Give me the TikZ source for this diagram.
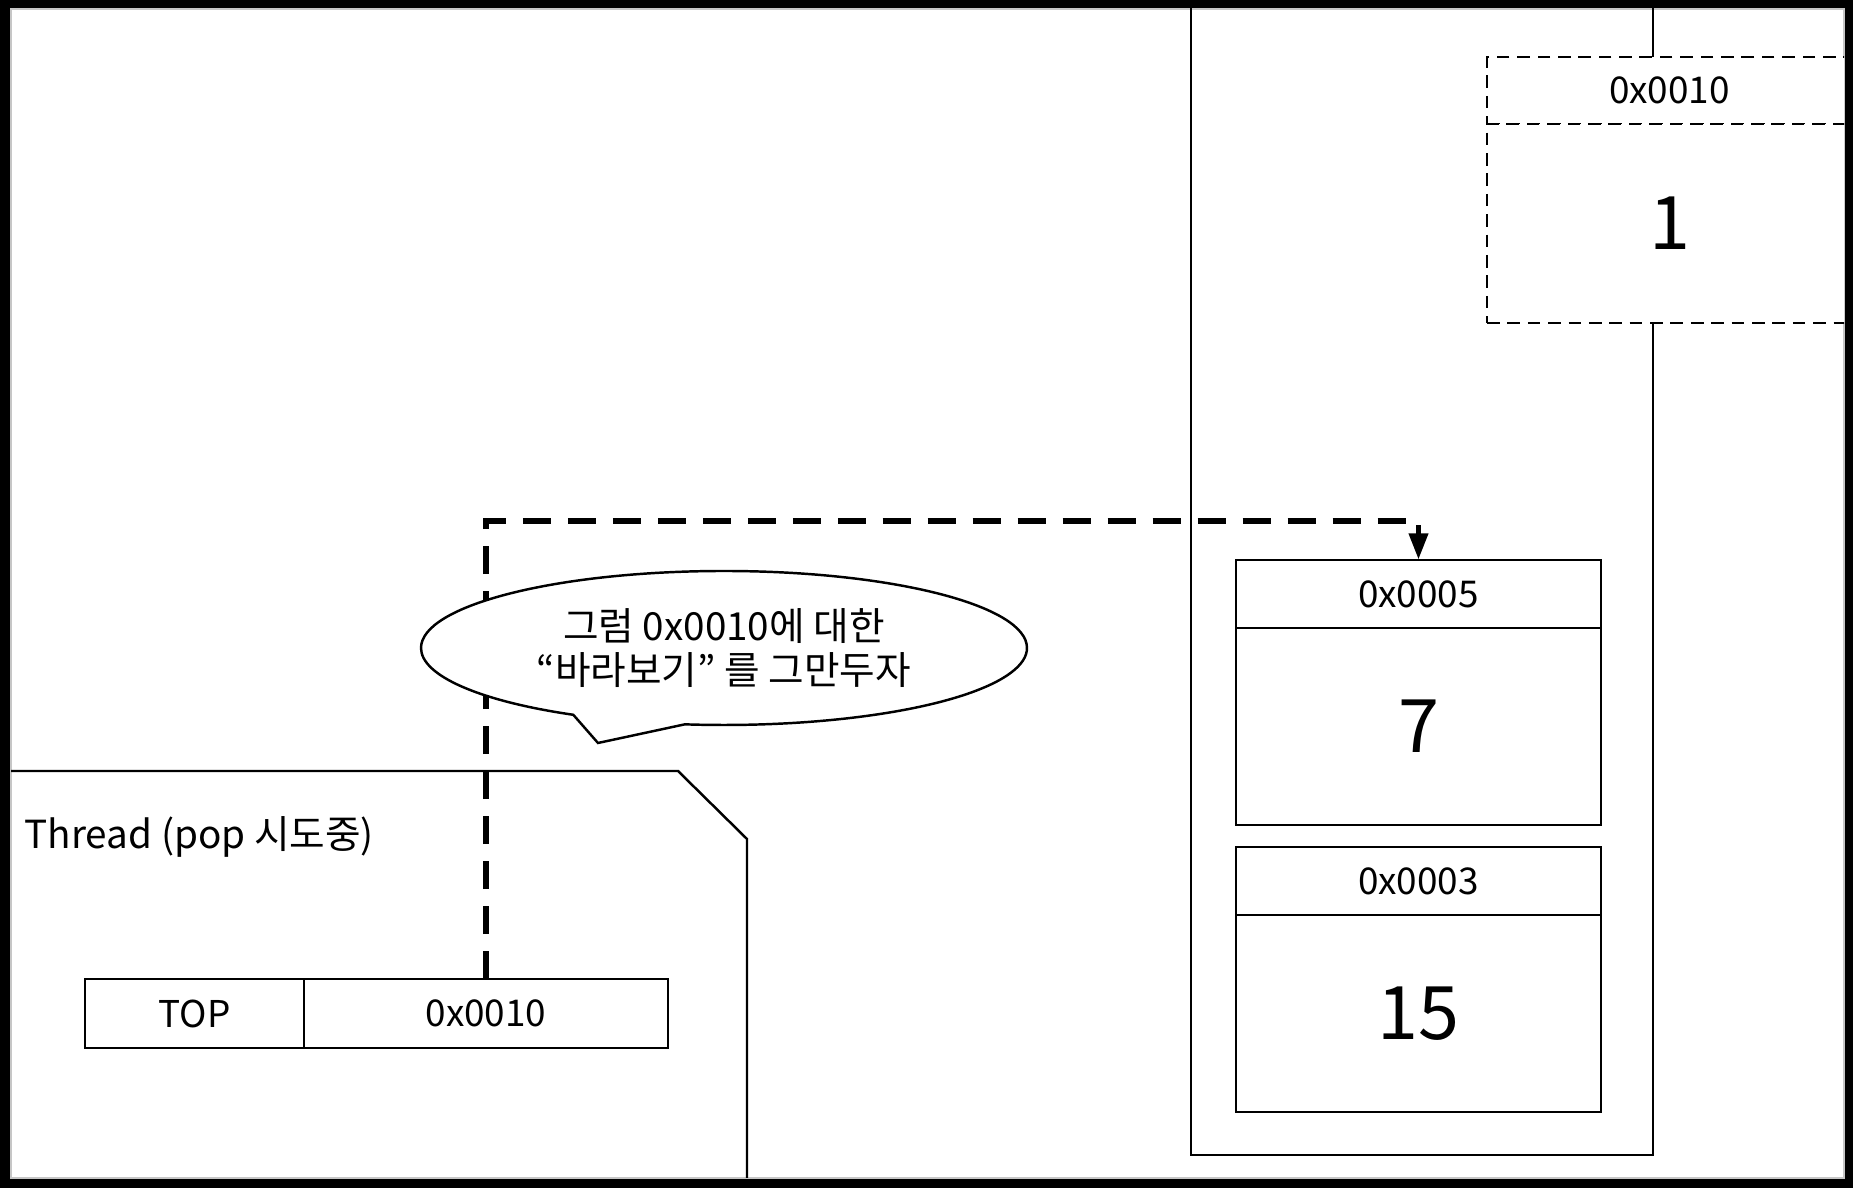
\documentclass[tikz,border=0pt]{standalone}
\usepackage{fontspec}
\setmainfont{Noto Sans CJK KR}
\usepackage{tikz}
\usetikzlibrary{arrows.meta,positioning,shapes.callouts}

\begin{document}
\begin{tikzpicture}[x=0.1mm, y=0.1mm, every node/.style={font=\fontsize{10.5}{12.5}\selectfont},
  cell/.style={draw, line width=0.7pt, minimum width=36.5mm, inner sep=0pt, outer sep=0pt},
  addr/.style={cell, minimum height=6.8mm},
  val/.style={cell, minimum height=19.7mm, font=\fontsize{21}{25}\selectfont},
  ghost/.style={dash pattern=on 3.6pt off 2.2pt, fill=white},
  ptr/.style={line width=1.7pt, dash pattern=on 8pt off 4.8pt, -{Triangle[width=5.2pt,length=7.6pt]}}]
  \useasboundingbox (0,0) rectangle (1853,1188);
  \fill[black] (0,0) rectangle (1853,1188);
  \fill[white, draw=gray!45, line width=0.5pt] (11,10) rectangle (1844,1179);

  \begin{scope}
  \clip (11,10) rectangle (1844,1179);
  \draw[line width=0.7pt] (1191,33) rectangle (1653,1200);

  \node[addr, ghost, minimum height=6.7mm] (n10addr) at (1669.5,1097.5) {0x0010};
  \node[val, ghost, minimum height=19.9mm, below=0pt of n10addr] (n10val) {1};

  \node[addr] (n5addr) at (1418.5,594) {0x0005};
  \node[val, below=0pt of n5addr] (n5val) {7};
  \node[addr, below=2.2mm of n5val] (n3addr) {0x0003};
  \node[val, below=0pt of n3addr] (n3val) {15};

  \draw[line width=0.7pt] (0,417) -- (678,417) -- (747,349) -- (747,-10);
  \node[anchor=west, inner sep=0pt, font=\fontsize{11}{13}\selectfont] (thrlbl) at (24,351) {Thread (pop 시도중)};
  \node[cell, minimum width=21.9mm, minimum height=6.9mm] (topkey) at (194.5,174.5) {TOP};
  \node[cell, minimum width=36.4mm, minimum height=6.9mm, right=0pt of topkey] (topval) {0x0010};

  \coordinate (bend) at (0,667);
  \draw[ptr] (topval.north) -- (topval.north |- bend) -| (n5addr.north);

  \node[ellipse callout, draw, fill=white, line width=0.7pt, minimum width=60.6mm, minimum height=15.4mm,
    callout absolute pointer={(598,445)}, callout pointer arc=22.4, align=center,
    font=\fontsize{11}{12.4}\selectfont] (bubble) at (724,540) {그럼 0x0010에 대한\\“바라보기” 를 그만두자};
  \end{scope}
\end{tikzpicture}
\end{document}
